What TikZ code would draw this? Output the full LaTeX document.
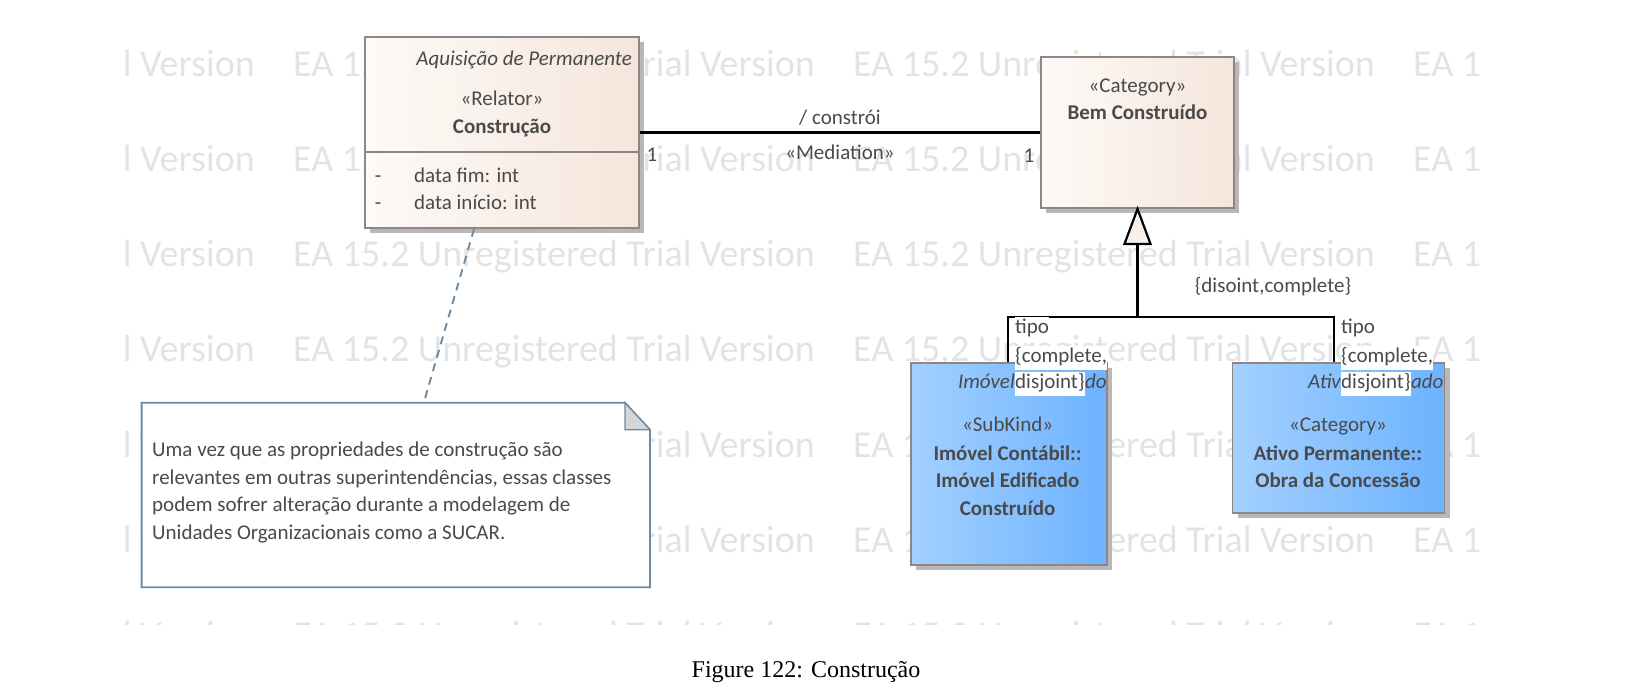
\documentclass[tikz,border=0pt]{standalone}
\usepackage{fontspec}
\setmainfont{Carlito}
\newfontfamily\captionfont{Liberation Serif}
\usetikzlibrary{shadows}
\definecolor{txtc}{HTML}{4A4A4A}
\definecolor{wmc}{HTML}{E3E3E3}
\definecolor{bordc}{HTML}{8F8585}
\definecolor{notec}{HTML}{6C8BA3}
\definecolor{peachL}{HTML}{FDFAF7}
\definecolor{peachR}{HTML}{F5E6DC}
\definecolor{blueL}{HTML}{A3D0FF}
\definecolor{blueR}{HTML}{6DB3FF}
\definecolor{shadc}{HTML}{B8B8B8}
\definecolor{foldc}{HTML}{D6D6D6}
\definecolor{trifill}{HTML}{F8F0EA}
\begin{document}
\begin{tikzpicture}[x=1pt,y=-1pt,
  txt/.style={text=txtc, inner sep=0pt, font=\fontsize{21}{25}\selectfont},
  itx/.style={txt, font=\fontsize{21}{25}\selectfont\itshape},
  bfx/.style={txt, font=\fontsize{21}{25}\selectfont\bfseries},
  wm/.style={text=wmc, inner sep=0pt, anchor=base west, font=\fontsize{38}{40}\selectfont},
  classbox/.style={draw=bordc, line width=1.9pt, inner sep=0pt,
    drop shadow={shadow xshift=5pt, shadow yshift=-5pt, fill=shadc, opacity=1}},
  peach/.style={classbox, left color=peachL, right color=peachR},
  bluebox/.style={classbox, left color=blueL, right color=blueR},
  assoc/.style={draw=black, line width=2.2pt},
  gen/.style={draw=black, line width=2.2pt},
  notelink/.style={draw=notec, line width=1.9pt, dash pattern=on 8pt off 6pt},
  lbl/.style={txt, fill=white, anchor=base west, inner xsep=0pt, inner ysep=2pt, text height=15pt, text depth=5pt},
]
\useasboundingbox (0,0) rectangle (1652,700);

% watermark
\begin{scope}
\clip (121,40) rectangle (1480,624);
\foreach \r in {0,...,6} {
  \foreach \s [count=\c] in {-267,293,853,1413} {
    \node[wm] (wm\r\c) at (\s,{77+95*\r}) {EA 15.2 Unregistered Trial Version};
  }
}
\end{scope}

% classes
\node[peach, minimum width=274pt, minimum height=191pt] (constr) at (502,132.5) {};
\draw[bordc, line width=1.9pt] (constr.west |- 0,152) -- (constr.east |- 0,152);
\node[peach, minimum width=193pt, minimum height=151pt] (bem) at (1137.5,132.5) {};
\node[bluebox, minimum width=196pt, minimum height=202pt] (imov) at (1008.6,463.9) {};
\node[bluebox, minimum width=212pt, minimum height=150.6pt] (ativo) at (1338.5,438) {};

% texts in Construcao
\node[itx, anchor=base east] (pkg1) at (632,66) {Aquisição de Permanente};
\node[txt, anchor=base] (st1) at (502,106) {«Relator»};
\node[bfx, anchor=base] (nm1) at (502,134) {Construção};
\node[txt, anchor=base] (dash1) at (378,182.7) {-};
\node[txt, anchor=base west] (at1) at (414,182.7) {data fim: int};
\node[txt, anchor=base] (dash2) at (378,210) {-};
\node[txt, anchor=base west] (at2) at (414,210) {data início: int};

% Bem Construido
\node[txt, anchor=base] (st2) at (1137.5,92.7) {«Category»};
\node[bfx, anchor=base] (nm2) at (1137.5,120) {Bem Construído};

% association
\draw[assoc] (constr.east) -- (bem.west);
\node[txt, anchor=base] (role) at (840,125) {/ constrói};
\node[txt, anchor=base] (med) at (840,160) {«Mediation»};
\node[txt, anchor=base] (m1) at (652,162) {1};
\node[txt, anchor=base] (m2) at (1029,163) {1};

% generalization
\coordinate (apex) at (bem.south);
\coordinate (junc) at (1137.5,316.7);
\draw[gen] ([xshift=-1pt]imov.north) |- (junc) -| ([xshift=-4.5pt]ativo.north);
\draw[gen] (junc) -- ([yshift=-35pt]apex);
\draw[gen, fill=trifill] (apex) -- ++(-13,35) -- ++(26,0) -- cycle;
\node[txt, anchor=base] (gs) at (1273,293) {\{disoint,complete\}};

% SubKind box
\node[txt, anchor=base] (st3) at (1007.6,431.7) {«SubKind»};
\node[bfx, anchor=base] (nm3a) at (1007.6,460) {Imóvel Contábil::};
\node[bfx, anchor=base] (nm3b) at (1007.6,487) {Imóvel Edificado};
\node[bfx, anchor=base] (nm3c) at (1007.6,515.7) {Construído};

% Ativo box
\node[txt, anchor=base] (st4) at (1338,431.7) {«Category»};
\node[bfx, anchor=base] (nm4a) at (1338,460) {Ativo Permanente::};
\node[bfx, anchor=base] (nm4b) at (1338,487) {Obra da Concessão};

% generalization labels (left)
\node[lbl] (lt1) at (1015,334) {tipo};
\node[lbl] (lc1) at (1015,362.7) {\{complete,};
\node[lbl] (ld1) at (1015,389) {disjoint\}};
\node[itx, anchor=base east] (pk3a) at (ld1.base west) {Imóvel};
\node[itx, anchor=base west] (pk3b) at (ld1.base east) {do};
% right
\node[lbl] (lt2) at (1341,334) {tipo};
\node[lbl] (lc2) at (1341,362.7) {\{complete,};
\node[lbl] (ld2) at (1341,389) {disjoint\}};
\node[itx, anchor=base east] (pk4a) at (ld2.base west) {Ativ};
\node[itx, anchor=base west] (pk4b) at (ld2.base east) {ado};

% note
\node[inner sep=0pt, minimum width=508pt, minimum height=184pt] (note) at (395.8,495) {};
\draw[notec, line width=1.9pt, fill=white] (note.south west) -- (note.north west)
  -- ([xshift=-25pt]note.north east) -- ([yshift=-27pt]note.north east) -- (note.south east) -- cycle;
\draw[notec, line width=1.2pt, fill=foldc] ([xshift=-25pt]note.north east) -- ([xshift=-25pt,yshift=-27pt]note.north east)
  -- ([yshift=-27pt]note.north east) -- cycle;
\node[txt, anchor=base west] (nt1) at (152,456.7) {Uma vez que as propriedades de construção são};
\node[txt, anchor=base west] (nt2) at (152,484.3) {relevantes em outras superintendências, essas classes};
\node[txt, anchor=base west] (nt3) at (152,511) {podem sofrer alteração durante a modelagem de};
\node[txt, anchor=base west] (nt4) at (152,539.3) {Unidades Organizacionais como a SUCAR.};
\draw[notelink] ([xshift=-28pt]constr.south) -- ([xshift=28pt]note.north);

% caption
\node[inner sep=0pt, anchor=base, font=\captionfont\fontsize{24}{28}\selectfont] (cap) at (806,677) {Figure 122: Construção};
\end{tikzpicture}
\end{document}
